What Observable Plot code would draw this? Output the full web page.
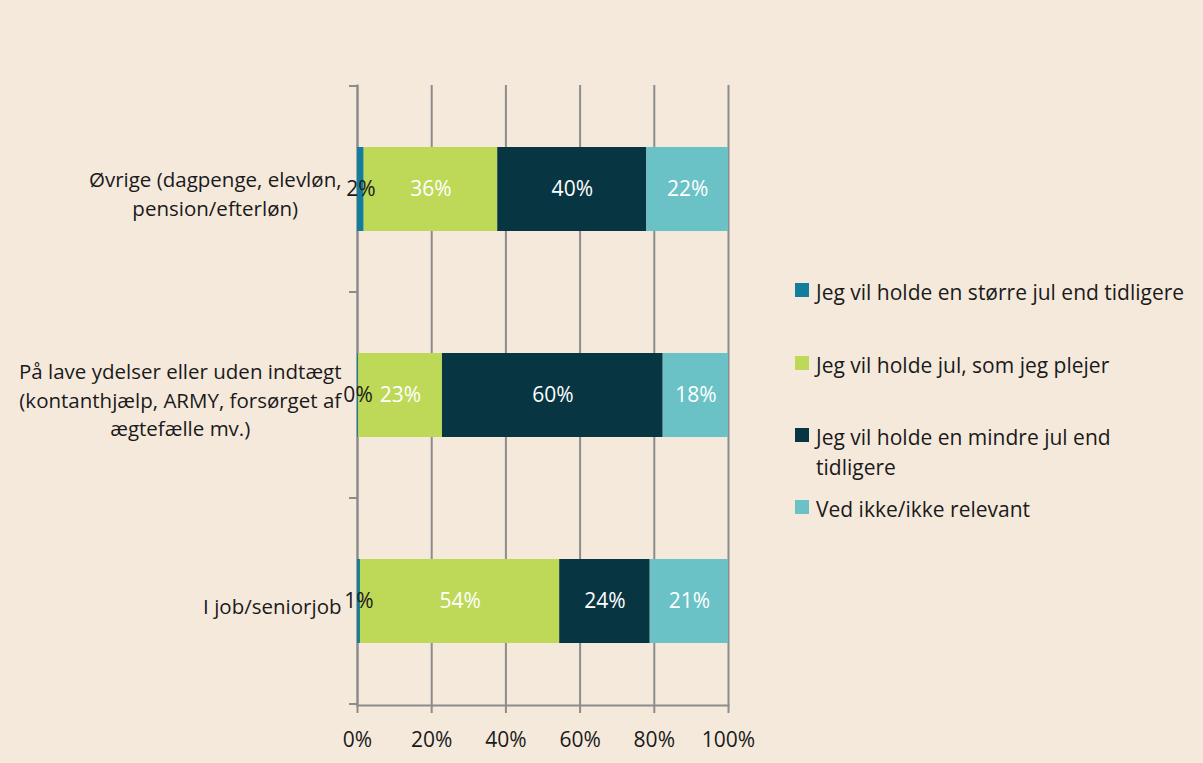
<!DOCTYPE html>
<html><head><meta charset="utf-8">
<script src="https://cdn.jsdelivr.net/npm/d3@7"></script>
<script src="https://cdn.jsdelivr.net/npm/@observablehq/plot@0.6"></script>
<style>
html,body{margin:0;padding:0;background:#f5e9dc;}
#wrap{position:relative;width:1203px;height:763px;background:#f5e9dc;font-family:"Open Sans",sans-serif;color:#1a1a1a;overflow:hidden;}
#wrap svg{position:absolute;left:0;top:0;}
.leg{position:absolute;left:795px;font-size:21px;line-height:30px;}
.leg .sw{position:absolute;left:0;width:14px;height:14px;}
.leg .tx{position:absolute;left:21px;width:373px;white-space:normal;}
</style></head><body><div id="wrap"></div>
<script>
// ---- data ----
const categories = [
  "Øvrige (dagpenge, elevløn,\npension/efterløn)",
  "På lave ydelser eller uden indtægt\n(kontanthjælp, ARMY, forsørget af\nægtefælle mv.)",
  "I job/seniorjob"
];
const series = [
  "Jeg vil holde en større jul end tidligere",
  "Jeg vil holde jul, som jeg plejer",
  "Jeg vil holde en mindre jul end tidligere",
  "Ved ikke/ikke relevant"
];
const colors = ["#127e9c", "#bed858", "#083542", "#6ac2c7"];
const storreJul = [1.8, 0.3, 0.8];
const somJegPlejer = [36.0, 22.6, 53.7];
const mindreJul = [40.2, 59.5, 24.4];
const vedIkke = [22.0, 17.6, 21.1];
const xTicks = [0, 20, 40, 60, 80, 100];

const valuesBySeries = [storreJul, somJegPlejer, mindreJul, vedIkke];
const data = [];
categories.forEach((cat, i) => {
  series.forEach((s, j) => data.push({cat, series: s, value: valuesBySeries[j][i]}));
});

const FONT = "'Open Sans', sans-serif";
const FS = 21;
const FSY = 20.5;
const grid = "#8c8c8c";

// measure category label widths (for right-aligned block with centered lines)
const ctx = document.createElement("canvas").getContext("2d");
ctx.font = `${FSY}px ${FONT}`;
const blockWidth = c => d3.max(c.split("\n"), l => ctx.measureText(l).width);

const marginLeft = 357, labelGap = 16;

const plot = Plot.plot({
  width: 1203,
  height: 763,
  marginLeft,
  marginRight: 475,
  marginTop: 85,
  marginBottom: 58,
  style: {background: "transparent", fontFamily: FONT, fontSize: FS + "px", color: "#1a1a1a"},
  x: {domain: [0, 100], ticks: xTicks},
  y: {domain: categories, paddingInner: 0.594, paddingOuter: 0.297, axis: null},
  color: {domain: [...series, "dark", "light"], range: [...colors, "#1a1a1a", "#ffffff"]},
  marks: [
    Plot.gridX({ticks: xTicks, stroke: grid, strokeOpacity: 1, strokeWidth: 2}),
    Plot.frame({anchor: "left", stroke: grid, strokeWidth: 2}),
    Plot.frame({anchor: "bottom", stroke: grid, strokeWidth: 2}),
    Plot.axisX({ticks: xTicks, tickSize: 8, tickPadding: 19, stroke: grid, strokeWidth: 2,
      tickFormat: d => d + "%", label: null, fontSize: 21, fill: "#1a1a1a"}),
    Plot.barX(data, {x: "value", y: "cat", fill: "series"}),
    Plot.text(data, Plot.stackX({
      x: "value", y: "cat",
      text: d => Math.round(d.value) + "%",
      fill: d => d.series === series[0] ? "dark" : "light",
      fontSize: 21
    })),
    ...categories.map(c => Plot.text([c], {
      y: d => d, text: d => d, frameAnchor: "left", textAnchor: "middle",
      lineHeight: 1.4, dy: 3, fill: "#1a1a1a", fontSize: FSY,
      dx: -(labelGap + blockWidth(c) / 2)
    }))
  ]
});

document.getElementById("wrap").appendChild(plot);

// category boundary ticks on the y axis, positioned via the y scale
const ys = plot.scale("y");
const step = ys.step ?? (ys.range[1] - ys.range[0]) / categories.length;
const gap = (step - ys.bandwidth) / 2;
const bounds = categories.map(c => ys.apply(c) - gap);
bounds.push(ys.apply(categories[categories.length - 1]) + ys.bandwidth + gap);
d3.select(plot).append("g")
  .attr("stroke", grid).attr("stroke-width", 2)
  .selectAll("line").data(bounds).join("line")
  .attr("x1", marginLeft - 8).attr("x2", marginLeft)
  .attr("y1", d => d).attr("y2", d => d);

// legend
const legendTops = [277, 350, 422, 494];
const wrap = d3.select("#wrap");
series.forEach((s, i) => {
  const row = wrap.append("div").attr("class", "leg").style("top", legendTops[i] + "px");
  row.append("div").attr("class", "sw").style("top", "6px").style("background", colors[i]);
  row.append("div").attr("class", "tx").text(s);
});
</script>
</body></html>
